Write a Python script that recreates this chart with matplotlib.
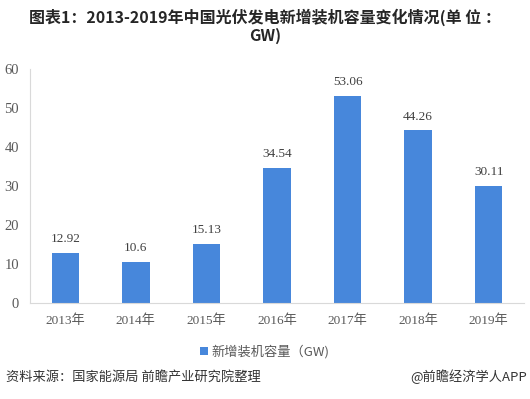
import matplotlib
matplotlib.use("Agg")
import matplotlib.pyplot as plt
from matplotlib.patches import Patch

# data
years = ["2013年", "2014年", "2015年", "2016年", "2017年", "2018年", "2019年"]
capacity = [12.92, 10.6, 15.13, 34.54, 53.06, 44.26, 30.11]
value_labels = ["12.92", "10.6", "15.13", "34.54", "53.06", "44.26", "30.11"]
yticks = [0, 10, 20, 30, 40, 50, 60]

title = "图表1：2013-2019年中国光伏发电新增装机容量变化情况(单 位 ：\nGW)"
series_name = "新增装机容量（GW)"
source = "资料来源：国家能源局 前瞻产业研究院整理"
credit = "@前瞻经济学人APP"

serif = ["Liberation Serif", "Noto Sans CJK SC"]
sans = ["Noto Sans CJK SC", "DejaVu Sans"]
bar_color = "#4787DB"
text_color = "#404040"

fig = plt.figure(figsize=(5.30, 3.99), dpi=100)
ax = fig.add_axes([30 / 530, 96 / 399, 494 / 530, 234 / 399])

x = list(range(len(years)))
ax.bar(x, capacity, width=0.39, color=bar_color, zorder=2)
for xi, v, lab in zip(x, capacity, value_labels):
    ax.text(xi, v + 2.0, lab, ha="center", va="bottom", fontsize=9.5,
            family=serif, color=text_color)

ax.set_xlim(-0.5, len(years) - 0.5)
ax.set_ylim(0, 60)
ax.set_yticks(yticks)
ax.set_yticklabels([str(t) for t in yticks], family=serif, fontsize=10.5,
                   color="#595959")
ax.set_xticks(x)
ax.set_xticklabels(years, family=serif, fontsize=9.5, color="#595959")
ax.tick_params(axis="both", length=0)
ax.tick_params(axis="y", pad=8)
ax.tick_params(axis="x", pad=8)
for side in ("top", "right"):
    ax.spines[side].set_visible(False)
for side in ("left", "bottom"):
    ax.spines[side].set_color("#D9D9D9")
    ax.spines[side].set_linewidth(0.8)

# title
fig.text(0.5, 1 - 9 / 399, title, ha="center", va="top", fontsize=11.5,
         fontweight="bold", family=sans, color="#262626", linespacing=1.1)

# legend
handle = Patch(facecolor=bar_color, edgecolor="none")
fig.legend([handle], [series_name], loc="center", bbox_to_anchor=(265 / 530, 1 - 352 / 399),
           frameon=False, handlelength=0.6, handleheight=0.6, handletextpad=0.3,
           prop={"family": sans, "size": 9.5}, labelcolor="#595959")

# footer
fig.text(6 / 530, 1 - 377 / 399, source, ha="left", va="center", fontsize=9.5,
         family=sans, color="#333333")
fig.text(1 - 3 / 530, 1 - 377 / 399, credit, ha="right", va="center", fontsize=9.5,
         family=sans, color="#333333")

fig.savefig("out.png", dpi=100)
